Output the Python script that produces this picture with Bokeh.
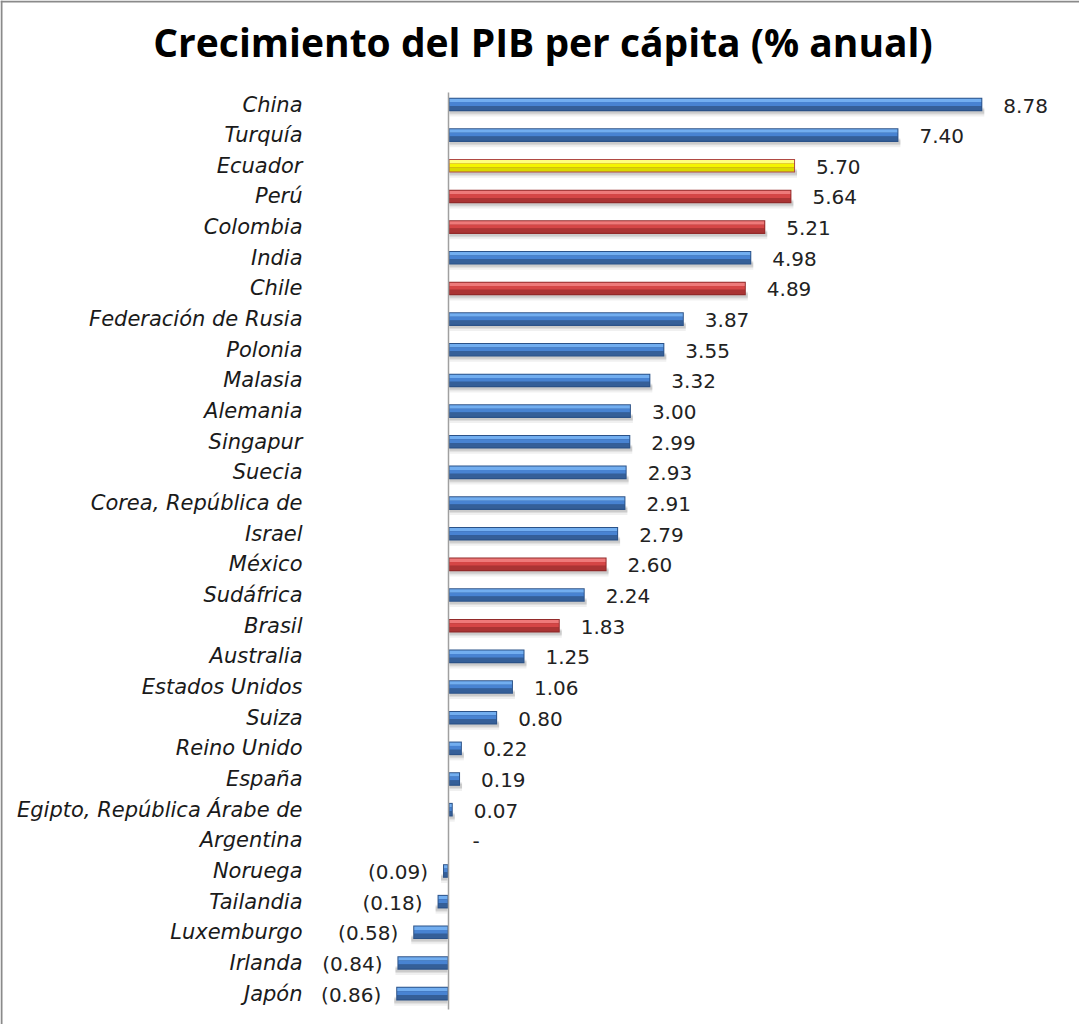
import numpy as np
from bokeh.plotting import figure
from bokeh.models import ColumnDataSource, Range1d, Span
from bokeh.core.properties import value
from bokeh.embed import file_html
from bokeh.resources import INLINE

# ---------------- data ----------------
title_text = "Crecimiento del PIB per cápita (% anual)"
countries = ["China", "Turquía", "Ecuador", "Perú", "Colombia", "India", "Chile",
             "Federación de Rusia", "Polonia", "Malasia", "Alemania", "Singapur",
             "Suecia", "Corea, República de", "Israel", "México", "Sudáfrica",
             "Brasil", "Australia", "Estados Unidos", "Suiza", "Reino Unido",
             "España", "Egipto, República Árabe de", "Argentina", "Noruega",
             "Tailandia", "Luxemburgo", "Irlanda", "Japón"]
growth = [8.78, 7.40, 5.70, 5.64, 5.21, 4.98, 4.89, 3.87, 3.55, 3.32, 3.00, 2.99,
          2.93, 2.91, 2.79, 2.60, 2.24, 1.83, 1.25, 1.06, 0.80, 0.22, 0.19, 0.07,
          0.00, -0.09, -0.18, -0.58, -0.84, -0.86]
groups = ["otro", "otro", "ecuador", "latam", "latam", "otro", "latam",
          "otro", "otro", "otro", "otro", "otro", "otro", "otro", "otro",
          "latam", "otro", "latam", "otro", "otro", "otro", "otro", "otro",
          "otro", "otro", "otro", "otro", "otro", "otro", "otro"]

# ---------------- layout constants ----------------
W, H = 1079, 1024
KX = 60.8          # px per unit of growth
KY = 30.66         # px per row
AXIS_PX = 448      # canvas x of zero
ROW0_PX = 104      # canvas y of first row centre

x_start = -AXIS_PX / KX
x_end = (W - AXIS_PX) / KX
y_top = ROW0_PX / KY
y_bot = -(H - ROW0_PX) / KY

palette = {
    "otro":    dict(edge="#2b5288", light="#72aef0", mid="#4883d2", low="#355f98"),
    "latam":   dict(edge="#922a2a", light="#ee7a7a", mid="#d54646", low="#aa3434"),
    "ecuador": dict(edge="#b04a44", light="#ffff80", mid="#f5f500", low="#d9d900"),
}

p = figure(width=W, height=H, output_backend="svg", toolbar_location=None,
           x_range=Range1d(x_start, x_end), y_range=Range1d(y_bot, y_top),
           x_axis_location=None, y_axis_location=None, min_border=0,
           background_fill_color="white", border_fill_color="white")
p.grid.visible = False
p.outline_line_color = None

vals = np.array(growth, dtype=float)
n = len(vals)
yc = -np.arange(n, dtype=float)
sign = np.where(vals >= 0, 1.0, -1.0)
col = lambda key: [palette[g][key] for g in groups]
nz = vals != 0

def band(a, b):
    """vertical band from a to b px below the row centre"""
    return yc - (a + b) / 2.0 / KY, (b - a) / KY

# shadow
for a, b, alpha in [(3, 12, 0.06), (4, 10, 0.08), (5, 9, 0.08)]:
    cy, h = band(a, b)
    left = sign * 1.0 / KX
    right = vals + sign * 2.0 / KX
    p.hbar(y=cy[nz], left=left[nz], right=right[nz], height=h,
           fill_color="black", fill_alpha=alpha, line_color=None)

# base (edge colour)
cy, h = band(-6.8, 6.8)
p.hbar(y=cy, left=0, right=vals, height=h, fill_color=col("edge"), line_color=None)

inset = np.where(np.abs(vals) > 3.0 / KX, 1.0 / KX, 0.0) * sign
lft = inset
rgt = vals - inset
for a, b, key in [(-5.8, -2.4, "light"), (-2.4, 1.4, "mid"), (1.4, 5.6, "low")]:
    cy, h = band(a, b)
    p.hbar(y=cy, left=lft, right=rgt, height=h, fill_color=col(key), line_color=None)

# zero axis line
p.segment(x0=[0], y0=[(ROW0_PX - 92) / KY], x1=[0], y1=[-(1009 - ROW0_PX) / KY],
          line_color="#a0a0a0", line_width=1.5)

# category labels
p.text(x=np.zeros(n), y=yc, text=countries, x_offset=-146,
       text_align="right", text_baseline="middle",
       text_font=value("DejaVu Sans"), text_font_style="italic",
       text_font_size="21px", text_color="#1a1a1a")

# value labels
def fmt(v):
    if v == 0:
        return "-"
    if v < 0:
        return "({:.2f})".format(-v)
    return "{:.2f}".format(v)

labels = np.array([fmt(v) for v in vals])
pos = vals >= 0
xo = np.where(vals > 0, 21, np.where(vals == 0, 24, -15))
src_pos = ColumnDataSource(dict(x=vals[pos], y=yc[pos] - 1.0 / KY,
                                t=list(labels[pos]), xo=xo[pos]))
src_neg = ColumnDataSource(dict(x=vals[~pos], y=yc[~pos] - 1.0 / KY,
                                t=list(labels[~pos]), xo=xo[~pos]))
p.text(x="x", y="y", text="t", x_offset="xo", source=src_pos,
       text_align="left", text_baseline="middle",
       text_font=value("DejaVu Sans"), text_font_size="20px", text_color="#222222")
p.text(x="x", y="y", text="t", x_offset="xo", source=src_neg,
       text_align="right", text_baseline="middle",
       text_font=value("DejaVu Sans"), text_font_size="20px", text_color="#222222")

# title
p.text(x=[(542.5 - AXIS_PX) / KX], y=[(ROW0_PX - 41) / KY], text=[title_text],
       text_align="center", text_baseline="middle",
       text_font=value("Open Sans"), text_font_style="bold",
       text_font_size="39px", text_color="black")

# frame lines (top and left)
p.add_layout(Span(location=y_top - 1.0 / KY, dimension="width",
                  line_color="#8a8a8a", line_width=2))
p.add_layout(Span(location=x_start + 1.0 / KX, dimension="height",
                  line_color="#8a8a8a", line_width=2))

open("out.html", "w").write(file_html(p, INLINE))
